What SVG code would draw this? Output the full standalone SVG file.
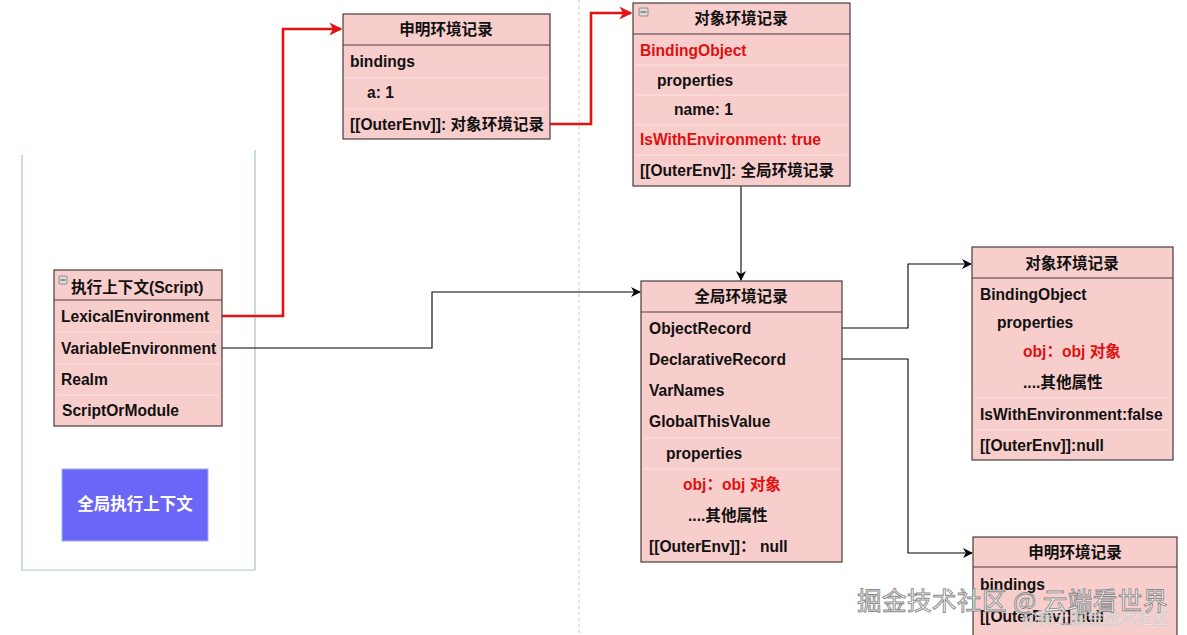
<svg xmlns="http://www.w3.org/2000/svg" width="1187" height="635" viewBox="0 0 1187 635">
<style>
.box{fill:#f8cecc;stroke:#4a3c3c;stroke-width:1.2}
.hd{fill:none;stroke:#4a3c3c;stroke-width:1.2}
.sep{stroke:#fbe3e2;stroke-width:1}
.t{font-family:"Liberation Sans","Noto Sans CJK SC",Arial,sans-serif;font-size:15.6px;font-weight:bold;fill:#111}
.h{font-family:"Liberation Sans","Noto Sans CJK SC",Arial,sans-serif;font-size:15.6px;font-weight:bold;fill:#111;text-anchor:middle}
.r{fill:#e01010}
.blk{fill:none;stroke:#000;stroke-width:1.1}
.red{fill:none;stroke:#e51212;stroke-width:2.6}
.ico{fill:#ddd;stroke:#777;stroke-width:0.8}
</style>
<defs>
<marker id="ab" viewBox="0 0 10 10" refX="9" refY="5" markerWidth="10" markerHeight="10" markerUnits="userSpaceOnUse" orient="auto"><path d="M0,0 L10,5 L0,10 L3,5 z" fill="#000"/></marker>
<marker id="ar" viewBox="0 0 10 10" refX="9" refY="5" markerWidth="13" markerHeight="13" markerUnits="userSpaceOnUse" orient="auto"><path d="M0,0 L10,5 L0,10 L3,5 z" fill="#e51212"/></marker>
</defs>
<rect width="1187" height="635" fill="#fff"/>
<line x1="579" y1="0" x2="579" y2="635" stroke="#c8c8c8" stroke-width="1" stroke-dasharray="3,3"/>
<g id="container">
<path d="M22,155 V570 H255 V150" fill="none" stroke="#a9c4c4" stroke-width="1.2"/>
</g>
<g id="connectors">
<path class="red" d="M222,316 H283 V29 H341" marker-end="url(#ar)"/>
<path class="red" d="M550,124 H591 V13 H631" marker-end="url(#ar)"/>
<path class="blk" d="M222,348 H432 V292 H640" marker-end="url(#ab)"/>
<path class="blk" d="M741,186 V280" marker-end="url(#ab)"/>
<path class="blk" d="M842,328 H908 V264 H971" marker-end="url(#ab)"/>
<path class="blk" d="M842,359 H908 V553 H972" marker-end="url(#ab)"/>
</g>
<g id="exec-context">
<rect class="box" x="54" y="270" width="168" height="156"/>
<line class="hd" x1="54" y1="300" x2="222" y2="300"/>
<line class="sep" x1="57" y1="332" x2="219" y2="332"/>
<line class="sep" x1="57" y1="364" x2="219" y2="364"/>
<line class="sep" x1="57" y1="395" x2="219" y2="395"/>
<rect class="ico" x="59" y="276" width="8" height="8" rx="1"/>
<line x1="60.5" y1="280" x2="65.5" y2="280" stroke="#444" stroke-width="1"/>
<text class="t" x="71" y="293">执行上下文(Script)</text>
<text class="t" x="61" y="322">LexicalEnvironment</text>
<text class="t" x="61" y="354">VariableEnvironment</text>
<text class="t" x="61" y="385">Realm</text>
<text class="t" x="62" y="416">ScriptOrModule</text>
</g>
<g id="global-exec">
<rect x="62" y="469" width="146" height="72" fill="#6b66f7" stroke="#9fb4f0" stroke-width="1"/>
<text class="h" x="135" y="510" style="fill:#fff;font-size:16.5px">全局执行上下文</text>
</g>
<g id="decl-top">
<rect class="box" x="343" y="14" width="207" height="125"/>
<line class="hd" x1="343" y1="45" x2="550" y2="45"/>
<line class="sep" x1="346" y1="78" x2="547" y2="78"/>
<line class="sep" x1="346" y1="109" x2="547" y2="109"/>
<text class="h" x="446" y="35">申明环境记录</text>
<text class="t" x="350" y="67">bindings</text>
<text class="t" x="367" y="98">a: 1</text>
<text class="t" x="350" y="130">[[OuterEnv]]: 对象环境记录</text>
</g>
<g id="obj-top">
<rect class="box" x="633" y="3" width="217" height="183"/>
<line class="hd" x1="633" y1="34" x2="850" y2="34"/>
<line class="sep" x1="636" y1="65" x2="847" y2="65"/>
<line class="sep" x1="636" y1="95" x2="847" y2="95"/>
<line class="sep" x1="636" y1="125" x2="847" y2="125"/>
<line class="sep" x1="636" y1="155" x2="847" y2="155"/>
<rect class="ico" x="639" y="8" width="9" height="8" rx="1"/>
<line x1="640.5" y1="12" x2="646.5" y2="12" stroke="#444" stroke-width="1"/>
<text class="h" x="741" y="24">对象环境记录</text>
<text class="t r" x="640" y="56">BindingObject</text>
<text class="t" x="657" y="86">properties</text>
<text class="t" x="674" y="115">name: 1</text>
<text class="t r" x="640" y="145">IsWithEnvironment: true</text>
<text class="t" x="640" y="176">[[OuterEnv]]: 全局环境记录</text>
</g>
<g id="global-record">
<rect class="box" x="641" y="281" width="201" height="281"/>
<line class="hd" x1="641" y1="312" x2="842" y2="312"/>
<line class="sep" x1="644" y1="438" x2="839" y2="438"/>
<line class="sep" x1="644" y1="469" x2="839" y2="469"/>
<text class="h" x="741" y="302">全局环境记录</text>
<text class="t" x="649" y="334">ObjectRecord</text>
<text class="t" x="649" y="365">DeclarativeRecord</text>
<text class="t" x="649" y="396">VarNames</text>
<text class="t" x="649" y="427">GlobalThisValue</text>
<text class="t" x="666" y="459">properties</text>
<text class="t r" x="683" y="490">obj：obj 对象</text>
<text class="t" x="688" y="521">....其他属性</text>
<text class="t" x="649" y="552">[[OuterEnv]]：  null</text>
</g>
<g id="obj-right">
<rect class="box" x="972" y="247" width="201" height="213"/>
<line class="hd" x1="972" y1="278" x2="1173" y2="278"/>
<line class="sep" x1="975" y1="398" x2="1170" y2="398"/>
<line class="sep" x1="975" y1="430" x2="1170" y2="430"/>
<text class="h" x="1072" y="269">对象环境记录</text>
<text class="t" x="980" y="300">BindingObject</text>
<text class="t" x="997" y="328">properties</text>
<text class="t r" x="1023" y="357">obj：obj 对象</text>
<text class="t" x="1023" y="388">....其他属性</text>
<text class="t" x="980" y="420">IsWithEnvironment:false</text>
<text class="t" x="980" y="451">[[OuterEnv]]:null</text>
</g>
<g id="decl-right">
<rect class="box" x="973" y="537" width="204" height="110"/>
<line class="hd" x1="973" y1="567" x2="1177" y2="567"/>
<text class="h" x="1075" y="558">申明环境记录</text>
<text class="t" x="980" y="590">bindings</text>
<text class="t" x="980" y="622">[[OuterEnv]]:null</text>
</g>
<g id="watermark" font-family="'Noto Sans CJK SC',sans-serif">
<text x="1022" y="624" font-size="16.5" fill="#ffffff" fill-opacity="0.55" stroke="#c8c8c8" stroke-width="0.6">@稀土掘金技术社区</text>
<text x="857" y="610" font-size="24.5" fill="#ffffff" stroke="#8a8a8a" stroke-width="0.9" letter-spacing="0.5">掘金技术社区 @ 云端看世界</text>
</g>
</svg>
